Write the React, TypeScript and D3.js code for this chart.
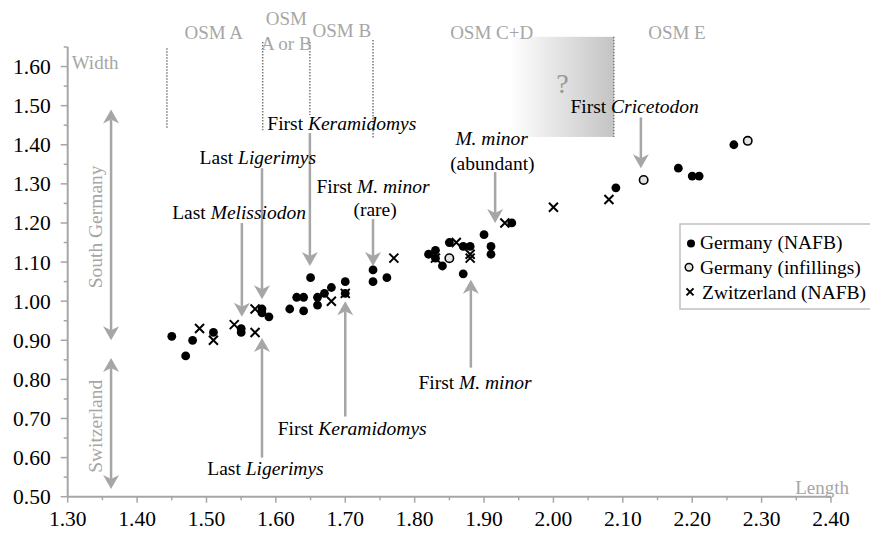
import React from "react";
import * as d3 from "d3";

const W = 870;
const H = 533;
const margin = { top: 47, right: 39, bottom: 36.3, left: 67.7 };
const FONT = '"Liberation Serif", "Times New Roman", Times, "DejaVu Serif", serif';
const GREY = "#a6a6a6";

// data: [length, width]
const germanyNafb: [number, number][] = [
  [1.45, 0.91], [1.47, 0.86], [1.48, 0.9], [1.51, 0.92], [1.55, 0.93], [1.55, 0.92],
  [1.58, 0.98], [1.58, 0.97], [1.59, 0.96], [1.62, 0.98], [1.63, 1.01], [1.64, 1.01],
  [1.64, 0.975], [1.65, 1.06], [1.66, 1.01], [1.66, 0.99], [1.67, 1.02], [1.68, 1.035],
  [1.7, 1.05], [1.7, 1.02], [1.74, 1.08], [1.74, 1.05], [1.76, 1.06], [1.82, 1.12],
  [1.83, 1.13], [1.83, 1.11], [1.84, 1.09], [1.85, 1.15], [1.87, 1.07], [1.87, 1.14],
  [1.88, 1.14], [1.9, 1.17], [1.91, 1.14], [1.91, 1.12], [1.94, 1.2], [2.09, 1.29],
  [2.18, 1.34], [2.2, 1.32], [2.21, 1.32], [2.26, 1.4],
];
const germanyInfill: [number, number][] = [[1.85, 1.11], [2.13, 1.31], [2.28, 1.41]];
const switzerland: [number, number][] = [
  [1.49, 0.93], [1.51, 0.9], [1.54, 0.94], [1.57, 0.92], [1.57, 0.98], [1.68, 1.0],
  [1.7, 1.02], [1.77, 1.11], [1.83, 1.11], [1.86, 1.15], [1.88, 1.12], [1.88, 1.11],
  [1.93, 1.2], [2.0, 1.24], [2.08, 1.26],
];

const xTicks = [1.3, 1.4, 1.5, 1.6, 1.7, 1.8, 1.9, 2.0, 2.1, 2.2, 2.3, 2.4];
const yTicks = [0.5, 0.6, 0.7, 0.8, 0.9, 1.0, 1.1, 1.2, 1.3, 1.4, 1.5, 1.6];

// OSM zone boundaries: x, top, bottom
const osmLines: [number, number, number][] = [
  [1.443, 1.647, 1.443], [1.581, 1.663, 1.437], [1.649, 1.663, 1.476],
  [1.74, 1.668, 1.417], [2.087, 1.676, 1.42],
];
const osmLabels: [string, number, number][] = [
  ["OSM A", 1.5105, 1.687], ["OSM", 1.615, 1.724], ["A or B", 1.615, 1.66],
  ["OSM B", 1.695, 1.692], ["OSM C+D", 1.911, 1.688], ["OSM E", 2.178, 1.688],
];

// annotation arrows: x, tail, tip
const arrows: [number, number, number][] = [
  [1.551, 1.2, 0.96], [1.58, 1.34, 1.005], [1.649, 1.43, 1.09], [1.74, 1.21, 1.09],
  [1.916, 1.33, 1.2], [2.126, 1.47, 1.34], [1.881, 0.83, 1.055], [1.7, 0.705, 1.0],
  [1.58, 0.6, 0.906],
];
// double arrows: x, top, bottom
const regionArrows: [number, number, number][] = [[1.3625, 1.49, 0.9], [1.3625, 0.855, 0.52]];
const regionLabels: [string, number, number][] = [
  ["South Germany", 1.3395, 1.19], ["Switzerland", 1.3395, 0.68],
];

type Part = { t: string; i?: boolean };
const notes: { x: number; y: number; parts: Part[] }[] = [
  { x: 1.547, y: 1.228, parts: [{ t: "Last " }, { t: "Melissiodon", i: true }] },
  { x: 1.574, y: 1.369, parts: [{ t: "Last " }, { t: "Ligerimys", i: true }] },
  { x: 1.695, y: 1.456, parts: [{ t: "First " }, { t: "Keramidomys", i: true }] },
  { x: 1.74, y: 1.294, parts: [{ t: "First " }, { t: "M. minor", i: true }] },
  { x: 1.743, y: 1.235, parts: [{ t: "(rare)" }] },
  { x: 1.911, y: 1.417, parts: [{ t: "M. minor", i: true }] },
  { x: 1.912, y: 1.353, parts: [{ t: "(abundant)" }] },
  { x: 2.117, y: 1.499, parts: [{ t: "First " }, { t: "Cricetodon", i: true }] },
  { x: 1.887, y: 0.794, parts: [{ t: "First " }, { t: "M. minor", i: true }] },
  { x: 1.71, y: 0.676, parts: [{ t: "First " }, { t: "Keramidomys", i: true }] },
  { x: 1.585, y: 0.573, parts: [{ t: "Last " }, { t: "Ligerimys", i: true }] },
];

const legendItems = ["Germany (NAFB)", "Germany (infillings)", "Zwitzerland (NAFB)"];

const x = d3.scaleLinear().domain([1.3, 2.4]).range([margin.left, W - margin.right]);
const y = d3.scaleLinear().domain([0.5, 1.65]).range([H - margin.bottom, margin.top]);

const head = (px: number, py: number, dir: 1 | -1) =>
  `M${px},${py} L${px - 8},${py - 14 * dir} L${px},${py - 10 * dir} L${px + 8},${py - 14 * dir} Z`;

const Cross = ({ cx, cy, s = 4.5 }: { cx: number; cy: number; s?: number }) => (
  <path
    d={`M${cx - s},${cy - s}L${cx + s},${cy + s}M${cx - s},${cy + s}L${cx + s},${cy - s}`}
    stroke="#000"
    strokeWidth={2}
  />
);

export default function App() {
  const x0 = x(1.3);
  const y0 = y(0.5);
  const minorX = d3.range(1.3, 2.4001, 0.05);
  const minorY = d3.range(0.5, 1.6501, 0.05);

  return (
    <svg
      width={W}
      height={H}
      style={{ position: "absolute", left: 0, top: 0, background: "#fff", fontFamily: FONT }}
    >
      <defs>
        <linearGradient id="qgrad" x1="0" x2="1" y1="0" y2="0">
          <stop offset="0" stopColor="#ffffff" />
          <stop offset="1" stopColor="#c4c4c4" />
        </linearGradient>
      </defs>

      {/* unknown interval box */}
      <rect
        x={x(1.937)}
        y={y(1.676)}
        width={x(2.087) - x(1.937)}
        height={y(1.42) - y(1.676)}
        fill="url(#qgrad)"
      />
      <text x={x(2.013)} y={y(1.558)} dy="0.35em" textAnchor="middle" fontSize={28} fill="#999">
        ?
      </text>

      {/* OSM zones */}
      {osmLines.map(([lx, t, b], i) => (
        <line
          key={i}
          x1={x(lx)}
          x2={x(lx)}
          y1={y(t)}
          y2={y(b)}
          stroke="#777"
          strokeWidth={1.5}
          strokeDasharray="1.5 1.5"
        />
      ))}
      {osmLabels.map(([s, lx, ly], i) => (
        <text key={i} x={x(lx)} y={y(ly)} dy="0.35em" textAnchor="middle" fontSize={19} fill={GREY}>
          {s}
        </text>
      ))}

      {/* axes */}
      <line x1={x0} x2={x0} y1={y(1.65)} y2={y0} stroke={GREY} strokeWidth={2} />
      <line x1={x0} x2={x(2.4)} y1={y0} y2={y0} stroke={GREY} strokeWidth={2} />
      {minorY.map((v, i) => (
        <line
          key={i}
          x1={x0 - (i % 2 === 0 ? 7 : 4)}
          x2={x0}
          y1={y(v)}
          y2={y(v)}
          stroke={GREY}
          strokeWidth={1.5}
        />
      ))}
      {minorX.map((v, i) => (
        <line
          key={i}
          x1={x(v)}
          x2={x(v)}
          y1={y0}
          y2={y0 + (i % 2 === 0 ? 6 : 3.5)}
          stroke={GREY}
          strokeWidth={1.5}
        />
      ))}
      {yTicks.map((v) => (
        <text key={v} x={x0 - 17} y={y(v)} dy="0.35em" textAnchor="end" fontSize={21.5} fill="#000">
          {v.toFixed(2)}
        </text>
      ))}
      {xTicks.map((v) => (
        <text key={v} x={x(v)} y={y0 + 21.5} dy="0.35em" textAnchor="middle" fontSize={21.5} fill="#000">
          {v.toFixed(2)}
        </text>
      ))}
      <text x={x0 + 4} y={y(1.61)} dy="0.35em" fontSize={19} fill={GREY}>
        Width
      </text>
      <text x={x(2.4) + 18} y={y0 - 9} dy="0.35em" textAnchor="end" fontSize={19} fill={GREY}>
        Length
      </text>

      {/* region arrows */}
      {regionArrows.map(([ax, t, b], i) => (
        <g key={i} fill={GREY} stroke="none">
          <line x1={x(ax)} x2={x(ax)} y1={y(t) + 10} y2={y(b) - 10} stroke={GREY} strokeWidth={2.5} />
          <path d={head(x(ax), y(t), -1)} />
          <path d={head(x(ax), y(b), 1)} />
        </g>
      ))}
      {regionLabels.map(([s, lx, ly], i) => (
        <text
          key={i}
          transform={`translate(${x(lx)},${y(ly)}) rotate(-90)`}
          dy="0.35em"
          textAnchor="middle"
          fontSize={19.5}
          fill={GREY}
        >
          {s}
        </text>
      ))}

      {/* annotation arrows */}
      {arrows.map(([ax, tail, tip], i) => {
        const dir = tip < tail ? 1 : -1;
        return (
          <g key={i} fill={GREY}>
            <line
              x1={x(ax)}
              x2={x(ax)}
              y1={y(tail)}
              y2={y(tip) - 10 * dir}
              stroke={GREY}
              strokeWidth={2.5}
            />
            <path d={head(x(ax), y(tip), dir)} />
          </g>
        );
      })}
      {notes.map((n, i) => (
        <text key={i} x={x(n.x)} y={y(n.y)} dy="0.35em" textAnchor="middle" fontSize={19.5} fill="#000">
          {n.parts.map((p, j) => (
            <tspan key={j} fontStyle={p.i ? "italic" : "normal"}>
              {p.t}
            </tspan>
          ))}
        </text>
      ))}

      {/* points */}
      {germanyNafb.map(([a, b], i) => (
        <circle key={"g" + i} cx={x(a)} cy={y(b)} r={4.4} fill="#000" />
      ))}
      {germanyInfill.map(([a, b], i) => (
        <circle key={"o" + i} cx={x(a)} cy={y(b)} r={4.2} fill="#e4e4e4" stroke="#000" strokeWidth={1.6} />
      ))}
      {switzerland.map(([a, b], i) => (
        <Cross key={"s" + i} cx={x(a)} cy={y(b)} />
      ))}

      {/* legend */}
      <rect x={680} y={224} width={200} height={85} fill="#fff" stroke="#c0c0c0" strokeWidth={1.5} />
      {legendItems.map((s, i) => {
        const ly = 242.5 + i * 24.7;
        return (
          <g key={s}>
            {i === 0 && <circle cx={691} cy={ly + 1} r={4} fill="#000" />}
            {i === 1 && <circle cx={689} cy={ly} r={3.8} fill="#e4e4e4" stroke="#000" strokeWidth={1.5} />}
            {i === 2 && <Cross cx={690} cy={ly} s={3.5} />}
            <text x={i === 2 ? 702 : 700} y={ly} dy="0.35em" fontSize={19.5} fill="#000">
              {s}
            </text>
          </g>
        );
      })}
    </svg>
  );
}
